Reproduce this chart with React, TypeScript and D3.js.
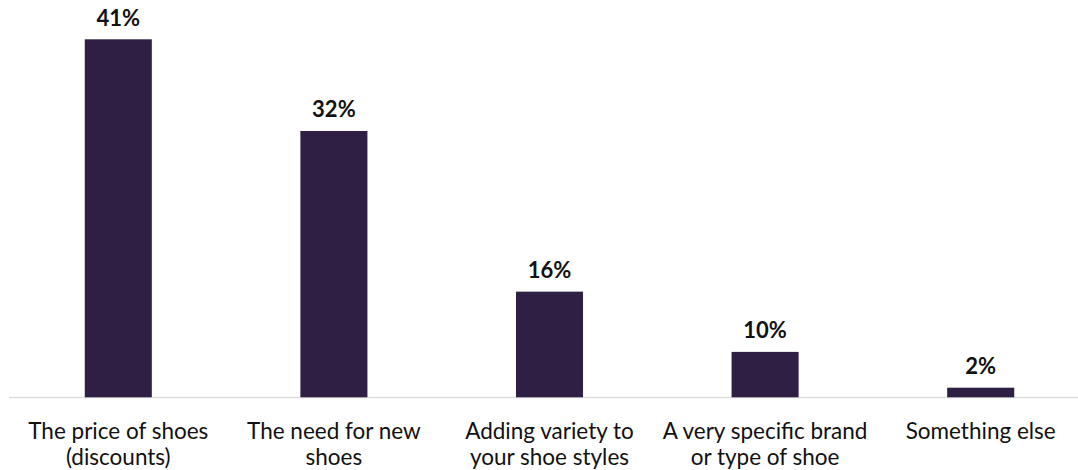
import React from "react";
import * as d3 from "d3";

const categories: string[][] = [
  ["The price of shoes", "(discounts)"],
  ["The need for new", "shoes"],
  ["Adding variety to", "your shoe styles"],
  ["A very specific brand", "or type of shoe"],
  ["Something else"],
];
const values: number[] = [41, 30.5, 12.1, 5.2, 1.1];
const valueLabels: string[] = ["41%", "32%", "16%", "10%", "2%"];

const W = 1078;
const H = 470;
const FONT = "Lato, 'Open Sans', sans-serif";

export default function App() {
  const ids = categories.map((_, i) => String(i));
  const x = d3
    .scaleBand<string>()
    .domain(ids)
    .range([10.5, 1088.5])
    .paddingInner(0.689)
    .paddingOuter(0.3445);
  const y = d3
    .scaleLinear()
    .domain([0, d3.max(values) as number])
    .range([397.3, 39.3]);

  return (
    <div style={{ position: "absolute", left: 0, top: 0 }}>
      <svg width={W} height={H} style={{ display: "block", background: "#fff" }}>
        <line x1={9} x2={W} y1={397.5} y2={397.5} stroke="#dedede" strokeWidth={1.5} />
        {values.map((v, i) => {
          const bx = x(ids[i]) as number;
          const bw = x.bandwidth();
          const cx = bx + bw / 2;
          return (
            <g key={i}>
              <rect x={bx} y={y(v)} width={bw} height={y(0) - y(v)} fill="#2f1f45" />
              <text
                x={cx}
                y={y(v) - 13.8}
                textAnchor="middle"
                fontFamily={FONT}
                fontWeight={700}
                fontSize={22}
                fill="#111"
              >
                {valueLabels[i]}
              </text>
              {categories[i].map((line, j) => (
                <text
                  key={j}
                  x={cx}
                  y={439.3 + j * 25.8}
                  textAnchor="middle"
                  fontFamily={FONT}
                  fontSize={22.5}
                  fill="#111"
                >
                  {line}
                </text>
              ))}
            </g>
          );
        })}
      </svg>
    </div>
  );
}
